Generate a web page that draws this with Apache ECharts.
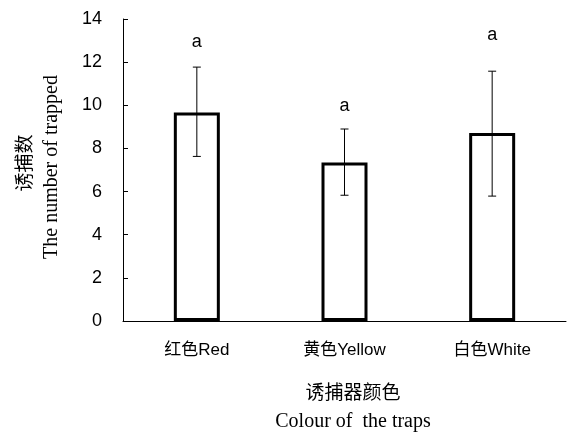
<!DOCTYPE html>
<html>
<head>
<meta charset="utf-8">
<script src="https://cdn.jsdelivr.net/npm/echarts@6/dist/echarts.min.js"></script>
<style>
html,body{margin:0;padding:0;background:#fff;}
#chart{width:570px;height:435px;}
</style>
</head>
<body>
<div id="chart"></div>
<script>
var categories = ['红色Red', '黄色Yellow', '白色White'];
var means = [9.67, 7.35, 8.71];
var errLow = [7.63, 5.83, 5.79];
var errHigh = [11.77, 8.90, 11.58];
var letters = ['a', 'a', 'a'];
var letterPos = [12.95, 9.95, 13.25];
var yTicks = [0, 2, 4, 6, 8, 10, 12, 14];

var chart = echarts.init(document.getElementById('chart'), null, {renderer: 'canvas'});
var sansFont = '"Liberation Sans", Arial, "Noto Sans CJK SC", sans-serif';

var errData = categories.map(function (c, i) { return [i, errLow[i], errHigh[i]]; });
var letterData = categories.map(function (c, i) { return [i, letterPos[i], letters[i]]; });

var option = {
  backgroundColor: '#ffffff',
  animation: false,
  grid: {left: 123, right: 4, top: 19, bottom: 114},
  xAxis: {
    type: 'category',
    data: categories,
    axisLine: {lineStyle: {color: '#000', width: 1}},
    axisTick: {inside: true, length: 5, lineStyle: {color: '#000'}},
    axisLabel: {color: '#000', fontSize: 17, fontFamily: sansFont, margin: 21}
  },
  yAxis: {
    type: 'value',
    min: yTicks[0],
    max: yTicks[yTicks.length - 1],
    interval: yTicks[1] - yTicks[0],
    axisLine: {show: true, lineStyle: {color: '#000', width: 1}},
    axisTick: {show: true, inside: true, length: 5, lineStyle: {color: '#000'}},
    axisLabel: {color: '#000', fontSize: 18, fontFamily: sansFont, margin: 21},
    splitLine: {show: false}
  },
  series: [
    {
      type: 'bar',
      data: means,
      barWidth: 46,
      itemStyle: {color: '#fff', borderColor: '#000', borderWidth: 3},
      z: 2
    },
    {
      type: 'custom',
      data: errData,
      z: 3,
      renderItem: function (params, api) {
        var x = api.value(0);
        var lo = api.coord([x, api.value(1)]);
        var hi = api.coord([x, api.value(2)]);
        var hw = 4;
        var st = {stroke: '#000', lineWidth: 1};
        return {
          type: 'group',
          children: [
            {type: 'line', shape: {x1: lo[0], y1: lo[1], x2: hi[0], y2: hi[1]}, style: st},
            {type: 'line', shape: {x1: lo[0] - hw, y1: lo[1], x2: lo[0] + hw, y2: lo[1]}, style: st},
            {type: 'line', shape: {x1: hi[0] - hw, y1: hi[1], x2: hi[0] + hw, y2: hi[1]}, style: st}
          ]
        };
      }
    },
    {
      type: 'custom',
      data: letterData,
      z: 4,
      renderItem: function (params, api) {
        var p = api.coord([api.value(0), api.value(1)]);
        return {
          type: 'text',
          x: p[0], y: p[1],
          style: {
            text: letters[params.dataIndex],
            fill: '#000',
            font: '18px ' + sansFont,
            align: 'center',
            verticalAlign: 'middle'
          }
        };
      }
    }
  ],
  graphic: [
    {
      type: 'text', x: 24, y: 163, rotation: Math.PI / 2,
      style: {text: '诱捕数', fill: '#000', font: '19px "Noto Sans CJK SC", serif', align: 'center', verticalAlign: 'middle'}
    },
    {
      type: 'text', x: 52, y: 167, rotation: Math.PI / 2,
      style: {text: 'The number of trapped', fill: '#000', font: '20px "Liberation Serif", "Times New Roman", serif', align: 'center', verticalAlign: 'middle'}
    },
    {
      type: 'text', x: 353, y: 392,
      style: {text: '诱捕器颜色', fill: '#000', font: '19px "Noto Sans CJK SC", serif', align: 'center', verticalAlign: 'middle'}
    },
    {
      type: 'text', x: 353, y: 422,
      style: {text: 'Colour of  the traps', fill: '#000', font: '20px "Liberation Serif", "Times New Roman", serif', align: 'center', verticalAlign: 'middle'}
    }
  ]
};
chart.setOption(option);
</script>
</body>
</html>
